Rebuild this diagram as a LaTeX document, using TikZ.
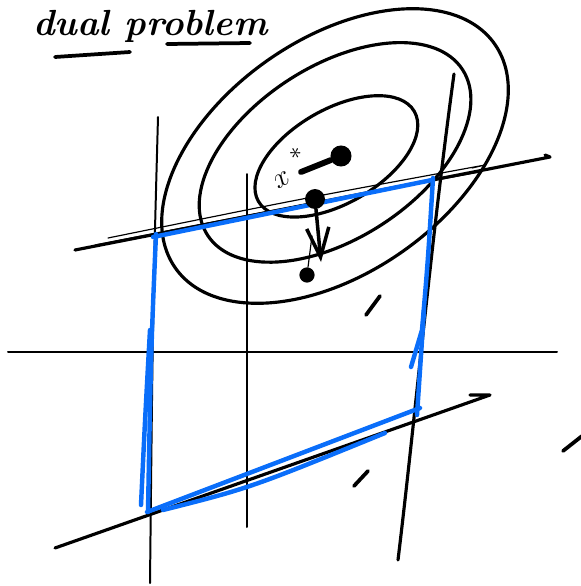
\documentclass[tikz,border=0pt]{standalone}
\usetikzlibrary{arrows.meta}
\definecolor{penblue}{RGB}{10,110,250}

\begin{document}
\begin{tikzpicture}[x=0.03cm,y=-0.03cm,line cap=round,line join=round,
  ink/.style={line width=2.7pt},
  axis/.style={line width=1.7pt},
  hair/.style={line width=1pt},
  blueink/.style={penblue,line width=3.8pt},
  tick/.style={line width=3.2pt},
  dot/.style={circle,fill=black,inner sep=0pt,minimum size=#1}]
\useasboundingbox (0,0) rectangle (580,586);
% title
\node[anchor=base west,inner sep=0pt,font=\fontsize{31}{36}\selectfont\bfseries\itshape] (title) at (33,35) {dual problem};
\draw[tick] (55,57) -- (130,52);
\draw[tick] (167,44) -- (250,43);
% level sets
\coordinate (c) at (335,156);
\draw[ink,rotate around={35:(c)}] (c) ellipse (195 and 117);
\draw[ink,rotate around={33:(c)}] (337,153) ellipse (152 and 86);
\draw[ink,rotate around={30:(c)}] (336,157) ellipse (90 and 47);
% axes
\draw[axis] (8,352) -- (557,352);
\draw[axis] (247,174) -- (247,527);
% constraint lines
\draw[ink] (75,250) -- (550,157) -- (545,155);
\draw[hair] (108,238) .. controls (300,199) .. (485,165) -- (472,168);
\draw[hair] (95,245) .. controls (300,205) .. (480,172);
\draw[ink] (55,548) -- (490,395) -- (470,395);
\draw[axis] (158,117) .. controls (153,300) .. (150,583);
\draw[ink] (454,74) .. controls (430,250) and (415,420) .. (398,560);
% feasible box
\draw[blueink] (153,237) -- (432,180);
\draw[blueink] (156,234) .. controls (151,350) .. (148,512);
\draw[blueink] (141,505) .. controls (145,420) .. (150,330);
\draw[blueink] (433,178) .. controls (428,260) .. (422,330) -- (411,367);
\draw[blueink] (424,310) -- (417,415);
\draw[blueink] (147,512) -- (420,408);
\draw[blueink] (163,510) .. controls (250,488) .. (385,433);
% dashes
\draw[tick] (366,315) -- (380,296);
\draw[tick] (354,486) -- (368,471);
\draw[tick] (563,451) -- (582,436);
% points
\node[dot=18pt] (xstar) at (341,156) {};
\node[dot=17pt] (xhat) at (315,199) {};
\node[dot=13pt] (xlow) at (307,275) {};
\coordinate (stem) at (301,172);
\coordinate (tip) at (321,262);
\draw[line width=5pt] (stem) -- (xstar);
\node[rotate=30,inner sep=0pt,font=\fontsize{28}{30}\selectfont] (xlab) at (282,180) {$x$};
\node[rotate=30,inner sep=0pt,font=\fontsize{22}{24}\selectfont] (xsup) at (296,154) {$*$};
\draw[line width=3pt,-{Straight Barb[length=25pt,width=19pt]}] (xhat) -- (tip);
\draw[hair] (312,236) -- (xlow);
\end{tikzpicture}
\end{document}
